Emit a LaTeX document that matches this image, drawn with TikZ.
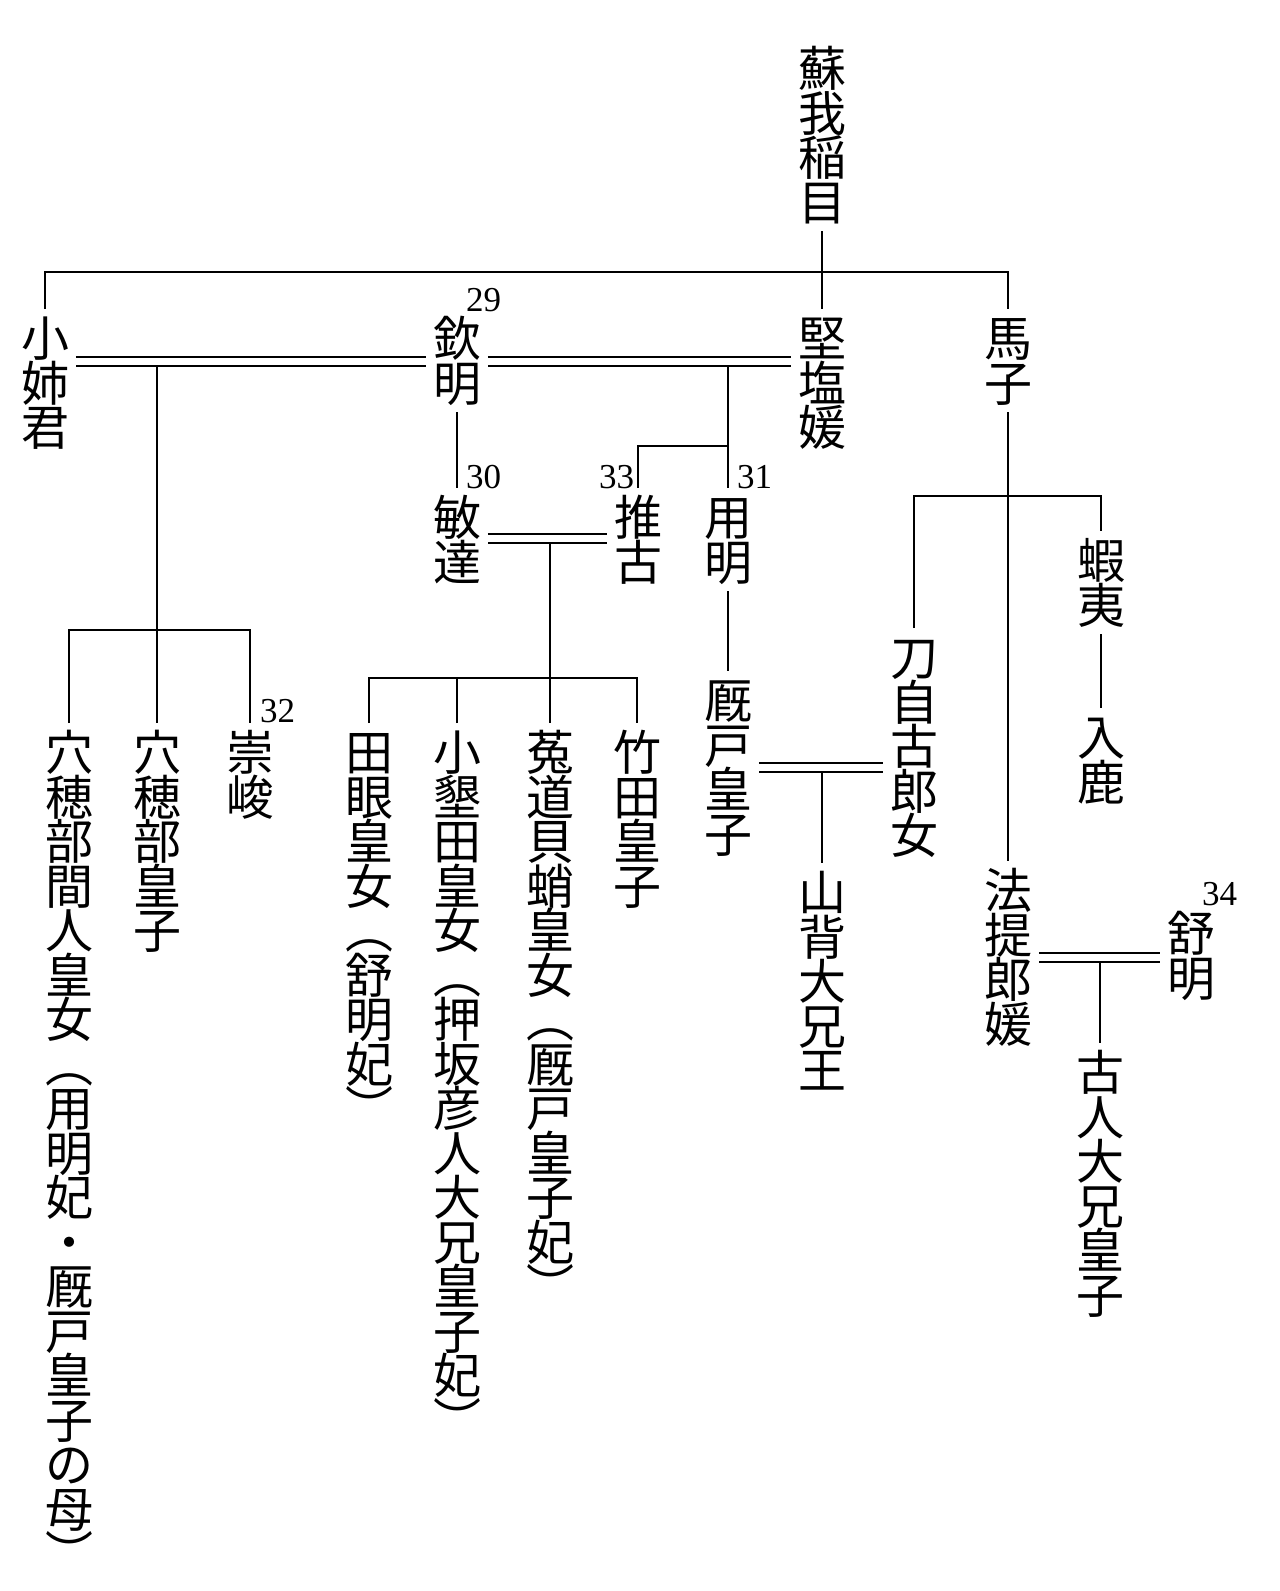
\documentclass[tikz,border=0pt]{standalone}
\usepackage{fontspec}
\newfontfamily\cjk{Noto Sans CJK JP}
\newfontfamily\numfont{Liberation Serif}
\makeatletter
\newcommand\vtcol[1]{\vbox{\cjk\fontsize{48pt}{44.5pt}\selectfont\lineskiplimit=-\maxdimen\lineskip=0pt
 \@tfor\vt@c:=#1\do{\hbox to 44.5pt{\hss\vrule width0pt height40.5pt depth4pt\vt@c\hss}}}}
\makeatother
\begin{document}
\begin{tikzpicture}[x=1pt,y=-1pt,line width=2pt,
  col/.style={inner sep=0pt,outer xsep=8.5pt,outer ysep=7pt,anchor=north},
  num/.style={inner sep=0pt,anchor=base west,font=\numfont\fontsize{35pt}{35pt}\selectfont},
  marriage/.style={double,double distance=7pt}]
\useasboundingbox[fill=white] (0,0) rectangle (1280,1591);
% persons
\node[col] (soga) at (822,39) {\vtcol{蘇我稲目}};
\node[col] (kosane) at (45,309) {\vtcol{小姉君}};
\node[col] (kinmei) at (457,309) {\vtcol{欽明}};
\node[col] (katashi) at (822,309) {\vtcol{堅塩媛}};
\node[col] (umako) at (1008,309) {\vtcol{馬子}};
\node[col] (bidatsu) at (457,488) {\vtcol{敏達}};
\node[col] (suiko) at (638,488) {\vtcol{推古}};
\node[col] (yomei) at (728,488) {\vtcol{用明}};
\node[col] (emishi) at (1101,531) {\vtcol{蝦夷}};
\node[col] (tojiko) at (914,628) {\vtcol{刀自古郎女}};
\node[col] (iruka) at (1101,708) {\vtcol{入鹿}};
\node[col] (hashihito) at (69,723) {\vtcol{穴穂部間人皇女︵用明妃・厩戸皇子の母︶}};
\node[col] (anahobe) at (157,723) {\vtcol{穴穂部皇子}};
\node[col] (sushun) at (250,723) {\vtcol{崇峻}};
\node[col] (tame) at (369,723) {\vtcol{田眼皇女︵舒明妃︶}};
\node[col] (owarida) at (457,723) {\vtcol{小墾田皇女︵押坂彦人大兄皇子妃︶}};
\node[col] (uji) at (550,723) {\vtcol{菟道貝蛸皇女︵厩戸皇子妃︶}};
\node[col] (takeda) at (637,723) {\vtcol{竹田皇子}};
\node[col] (umayado) at (728,671) {\vtcol{厩戸皇子}};
\node[col] (yamashiro) at (822,863) {\vtcol{山背大兄王}};
\node[col] (hote) at (1008,861) {\vtcol{法提郎媛}};
\node[col] (jomei) at (1191,904) {\vtcol{舒明}};
\node[col] (furuhito) at (1100,1043) {\vtcol{古人大兄皇子}};
% reign numbers
\node[num] (n29) at (465,311) {29};
\node[num] (n30) at (465,488) {30};
\node[num] (n33) at (598,488) {33};
\node[num] (n31) at (736,488) {31};
\node[num] (n32) at (259,722) {32};
\node[num] (n34) at (1201,905) {34};
% connectors
\coordinate (j0) at (822,272);
\draw (soga.south) -- (katashi.north);
\draw (kosane.north) |- (j0) -| (umako.north);
\coordinate (m1) at (0,361.5);
\draw[marriage] (kosane.east |- m1) -- (kinmei.west |- m1);
\draw[marriage] (kinmei.east |- m1) -- (katashi.west |- m1);
\coordinate (c1) at (157,366);
\coordinate (j1) at (157,630);
\draw (c1) -- (anahobe.north);
\draw (hashihito.north) |- (j1) -| (sushun.north);
\draw (kinmei.south) -- (bidatsu.north);
\coordinate (c2) at (728,366);
\coordinate (j2) at (728,446);
\draw (c2) -- (yomei.north);
\draw (j2) -| (suiko.north);
\coordinate (m2) at (0,538.5);
\draw[marriage] (bidatsu.east |- m2) -- (suiko.west |- m2);
\coordinate (c3) at (550,543);
\coordinate (j3) at (550,678);
\draw (c3) -- (uji.north);
\draw (tame.north) |- (j3) -| (takeda.north);
\draw (owarida.north) -- (owarida.north |- j3);
\draw (yomei.south) -- (umayado.north);
\draw (umako.south) -- (hote.north);
\coordinate (j4) at (1008,496);
\draw (tojiko.north) |- (j4) -| (emishi.north);
\draw (emishi.south) -- (iruka.north);
\coordinate (m3) at (0,767.5);
\draw[marriage] (umayado.east |- m3) -- (tojiko.west |- m3);
\coordinate (c4) at (822,772);
\draw (c4) -- (yamashiro.north);
\coordinate (m4) at (0,957.5);
\draw[marriage] (hote.east |- m4) -- (jomei.west |- m4);
\coordinate (c5) at (1100,962);
\draw (c5) -- (furuhito.north);
\end{tikzpicture}
\end{document}
